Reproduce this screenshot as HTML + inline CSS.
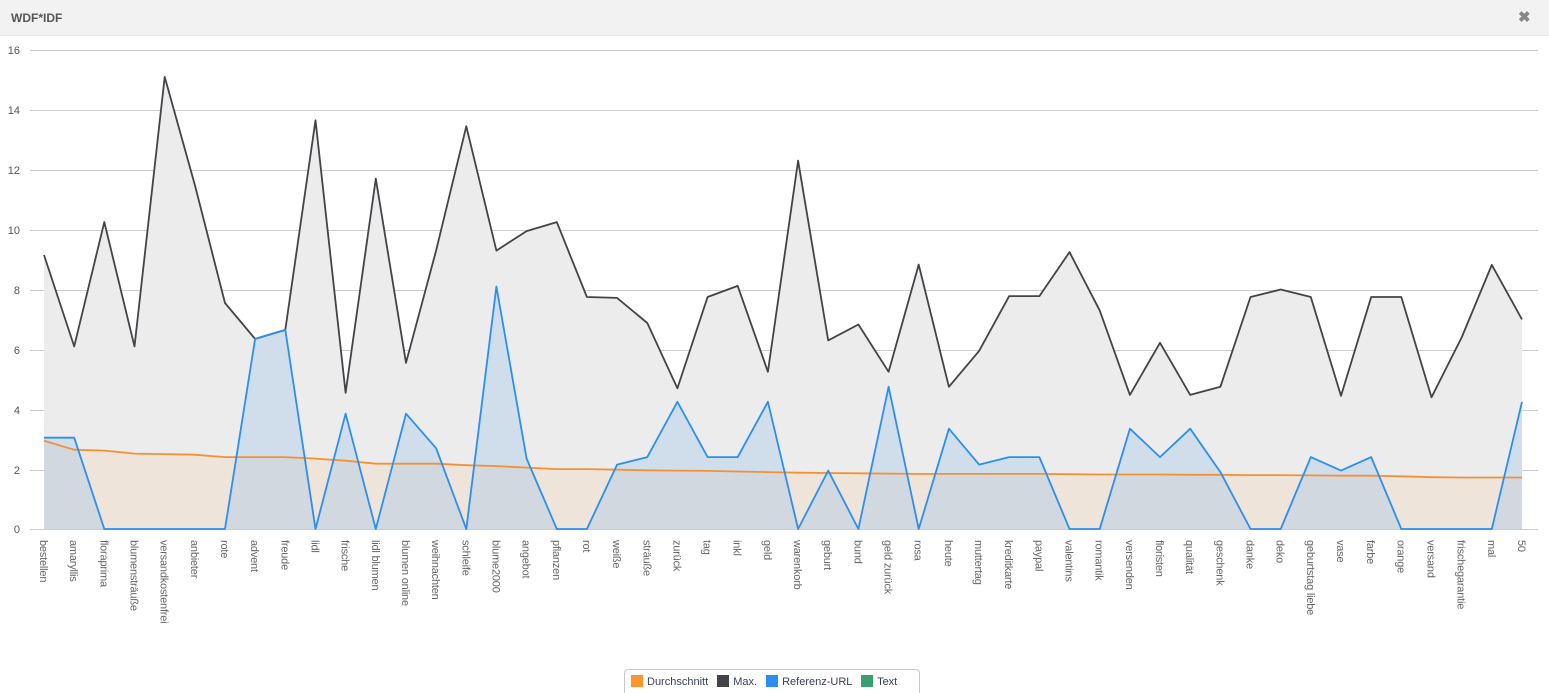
<!DOCTYPE html>
<html style="overflow:hidden;width:1549px;height:693px"><head><meta charset="utf-8"><style>
body{margin:0;width:1549px;height:693px;overflow:hidden;background:#fff;font-family:"Liberation Sans",sans-serif;position:relative}
.hdr{position:absolute;left:0;top:0;width:1549px;height:35px;background:#f2f2f2;border-bottom:1px solid #e8e8e8}
.hdr b{position:absolute;left:11px;top:11px;font-size:12px;color:#555}
.hdr span{position:absolute;left:1518px;top:8px;font-size:15px;color:#888;font-weight:bold}
svg{position:absolute;left:0;top:0}
.xl{font-size:11px;fill:#666;letter-spacing:-0.2px}
.yl{font-size:11px;fill:#555}
.leg{position:absolute;left:624px;top:669px;width:296px;height:24px;box-sizing:border-box;border:1px solid #c8c8c8;border-bottom:none;border-radius:4px 4px 0 0;font-size:11px;color:#34405a}
.leg i{display:inline-block;width:12px;height:12px;vertical-align:-2px;margin:0 4px 0 6px}
</style></head><body>
<div class="hdr"><b>WDF*IDF</b><span>✖</span></div>
<svg width="1549" height="693" id="s">
<g stroke="#ccc" stroke-width="1">
<line x1="30" x2="1538" y1="50.5" y2="50.5"/><line x1="30" x2="1538" y1="110.5" y2="110.5"/><line x1="30" x2="1538" y1="170.5" y2="170.5"/><line x1="30" x2="1538" y1="230.5" y2="230.5"/><line x1="30" x2="1538" y1="290.5" y2="290.5"/><line x1="30" x2="1538" y1="350.5" y2="350.5"/><line x1="30" x2="1538" y1="410.5" y2="410.5"/><line x1="30" x2="1538" y1="470.5" y2="470.5"/><line x1="30" x2="1538" y1="529.5" y2="529.5" stroke="#c0d0e0"/>
</g>
<g class="yl" text-anchor="end">
<text x="20" y="54">16</text><text x="20" y="114">14</text><text x="20" y="174">12</text><text x="20" y="234">10</text><text x="20" y="294">8</text><text x="20" y="354">6</text><text x="20" y="414">4</text><text x="20" y="474">2</text><text x="20" y="533">0</text>
</g>
<g id="series"></g>
<g class="xl">
<text transform="translate(40,540) rotate(90)">bestellen</text>
<text transform="translate(70.2,540) rotate(90)">amaryllis</text>
<text transform="translate(100.3,540) rotate(90)">floraprima</text>
<text transform="translate(130.5,540) rotate(90)">blumensträuße</text>
<text transform="translate(160.7,540) rotate(90)">versandkostenfrei</text>
<text transform="translate(190.8,540) rotate(90)">anbieter</text>
<text transform="translate(221,540) rotate(90)">rote</text>
<text transform="translate(251.1,540) rotate(90)">advent</text>
<text transform="translate(281.3,540) rotate(90)">freude</text>
<text transform="translate(311.5,540) rotate(90)">lidl</text>
<text transform="translate(341.6,540) rotate(90)">frische</text>
<text transform="translate(371.8,540) rotate(90)">lidl blumen</text>
<text transform="translate(402,540) rotate(90)">blumen online</text>
<text transform="translate(432.1,540) rotate(90)">weihnachten</text>
<text transform="translate(462.3,540) rotate(90)">schleife</text>
<text transform="translate(492.4,540) rotate(90)">blume2000</text>
<text transform="translate(522.6,540) rotate(90)">angebot</text>
<text transform="translate(552.8,540) rotate(90)">pflanzen</text>
<text transform="translate(582.9,540) rotate(90)">rot</text>
<text transform="translate(613.1,540) rotate(90)">weiße</text>
<text transform="translate(643.3,540) rotate(90)">sträuße</text>
<text transform="translate(673.4,540) rotate(90)">zurück</text>
<text transform="translate(703.6,540) rotate(90)">tag</text>
<text transform="translate(733.7,540) rotate(90)">inkl</text>
<text transform="translate(763.9,540) rotate(90)">geld</text>
<text transform="translate(794.1,540) rotate(90)">warenkorb</text>
<text transform="translate(824.2,540) rotate(90)">geburt</text>
<text transform="translate(854.4,540) rotate(90)">bund</text>
<text transform="translate(884.6,540) rotate(90)">geld zurück</text>
<text transform="translate(914.7,540) rotate(90)">rosa</text>
<text transform="translate(944.9,540) rotate(90)">heute</text>
<text transform="translate(975,540) rotate(90)">muttertag</text>
<text transform="translate(1005.2,540) rotate(90)">kreditkarte</text>
<text transform="translate(1035.4,540) rotate(90)">paypal</text>
<text transform="translate(1065.5,540) rotate(90)">valentins</text>
<text transform="translate(1095.7,540) rotate(90)">romantik</text>
<text transform="translate(1125.9,540) rotate(90)">versenden</text>
<text transform="translate(1156,540) rotate(90)">floristen</text>
<text transform="translate(1186.2,540) rotate(90)">qualität</text>
<text transform="translate(1216.4,540) rotate(90)">geschenk</text>
<text transform="translate(1246.5,540) rotate(90)">danke</text>
<text transform="translate(1276.7,540) rotate(90)">deko</text>
<text transform="translate(1306.8,540) rotate(90)">geburtstag liebe</text>
<text transform="translate(1337,540) rotate(90)">vase</text>
<text transform="translate(1367.2,540) rotate(90)">farbe</text>
<text transform="translate(1397.3,540) rotate(90)">orange</text>
<text transform="translate(1427.5,540) rotate(90)">versand</text>
<text transform="translate(1457.7,540) rotate(90)">frischegarantie</text>
<text transform="translate(1487.8,540) rotate(90)">mal</text>
<text transform="translate(1518,540) rotate(90)">50</text>
</g>
</svg>
<div class="leg"><div style="padding-top:5px"><i style="background:#fa9530"></i>Durchschnitt <i style="background:#434348"></i>Max. <i style="background:#2b8ff0"></i>Referenz-URL <i style="background:#3a9f6e"></i>Text</div></div>
<script>
var mx=[9.15,6.1,10.25,6.1,15.1,11.5,7.55,6.35,6.65,13.65,4.55,11.7,5.55,9.3,13.45,9.3,9.95,10.25,7.75,7.72,6.88,4.7,7.75,8.12,5.25,12.3,6.3,6.83,5.25,8.83,4.75,5.95,7.78,7.78,9.25,7.3,4.48,6.22,4.48,4.75,7.75,8.0,7.75,4.45,7.75,7.75,4.4,6.4,8.82,7.0];
var rf=[3.05,3.05,0,0,0,0,0,6.35,6.65,0,3.85,0,3.85,2.7,0,8.1,2.35,0,0,2.15,2.4,4.25,2.4,2.4,4.25,0,1.95,0,4.75,0,3.35,2.15,2.4,2.4,0,0,3.35,2.4,3.35,1.9,0,0,2.4,1.95,2.4,0,0,0,0,4.25];
var av=[2.95,2.65,2.62,2.52,2.5,2.48,2.4,2.4,2.4,2.35,2.28,2.18,2.18,2.18,2.13,2.1,2.05,2.0,2.0,1.98,1.96,1.95,1.94,1.92,1.9,1.88,1.87,1.86,1.85,1.84,1.84,1.84,1.84,1.84,1.83,1.82,1.82,1.82,1.81,1.81,1.8,1.8,1.79,1.78,1.78,1.76,1.73,1.72,1.72,1.72];
function X(i){return 44+i*30.163}function Y(v){return 529-v*29.94}
function pts(a){return a.map(function(v,i){return X(i).toFixed(1)+','+Y(v).toFixed(1)}).join(' ')}
var h='';
[[mx,'#ececec',1],[av,'#efe2d6',0.8],[rf,'#9fc3ea',0.35]].forEach(function(s){
h+='<polygon points="44,529 '+pts(s[0])+' 1522,529" fill="'+s[1]+'" fill-opacity="'+s[2]+'"/>';
});
[[mx,'#434348'],[av,'#f39235'],[rf,'#2b8ff0']].forEach(function(s){
h+='<polyline points="'+pts(s[0])+'" fill="none" stroke="'+s[1]+'" stroke-width="1.8" stroke-linejoin="round"/>';});
document.getElementById('series').innerHTML=h;
</script>
</body></html>
